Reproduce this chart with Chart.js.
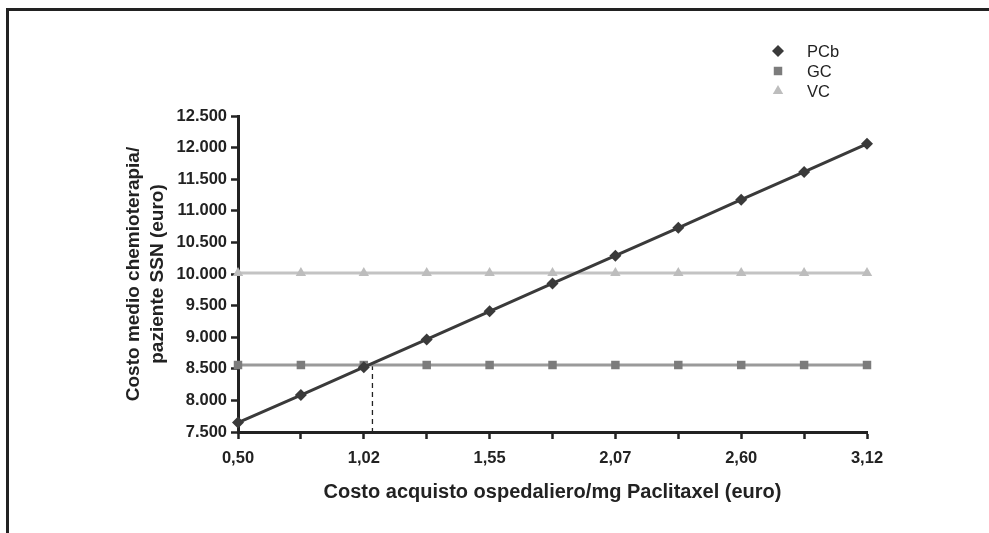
<!DOCTYPE html>
<html>
<head>
<meta charset="utf-8">
<script src="https://cdn.jsdelivr.net/npm/chart.js@4.4.1/dist/chart.umd.min.js"></script>
<style>
  html, body { margin: 0; padding: 0; background: #fff; overflow: hidden; }
  #wrap { position: relative; width: 989px; height: 533px; }
  #frame {
    position: absolute; left: 6px; top: 8px; width: 1100px; height: 700px;
    border: 3px solid #222; pointer-events: none;
  }
</style>
</head>
<body>
<div id="wrap">
  <canvas id="chart" width="989" height="533"></canvas>
  <div id="frame"></div>
</div>
<script>
// prezzo paclitaxel (euro/mg)
var prezzi = [0.50, 0.762, 1.024, 1.286, 1.548, 1.810, 2.072, 2.334, 2.596, 2.858, 3.120];
var costoPCb = [7650, 8085, 8525, 8965, 9410, 9850, 10290, 10730, 11175, 11615, 12060];
var costoGC = [8560, 8560, 8560, 8560, 8560, 8560, 8560, 8560, 8560, 8560, 8560];
var costoVC = [10015, 10015, 10015, 10015, 10015, 10015, 10015, 10015, 10015, 10015, 10015];
// punto di pareggio PCb = GC
var pareggioX = 1.06;
var pareggioY = 8560;
var yTicks = [7500, 8000, 8500, 9000, 9500, 10000, 10500, 11000, 11500, 12000, 12500];

var fontName = "'Liberation Sans', Arial, Helvetica, sans-serif";

function punti(xs, ys) {
  return xs.map(function (x, i) { return { x: x, y: ys[i] }; });
}

function migliaia(v) {
  return String(v).replace(/\B(?=(\d{3})+(?!\d))/g, ".");
}

// legenda a colonna in alto a destra
const legendaPlugin = {
  id: 'legenda',
  afterDraw: (chart, args, options) => {
    const ctx = chart.ctx;
    ctx.save();
    ctx.font = options.font;
    ctx.textBaseline = 'middle';
    ctx.textAlign = 'left';
    let y = options.y;
    chart.data.datasets.forEach((ds) => {
      if (ds.nascondi) return;
      ctx.fillStyle = ds.pointBackgroundColor;
      ctx.strokeStyle = ds.pointBackgroundColor;
      Chart.helpers.drawPoint(ctx, {
        pointStyle: ds.pointStyle,
        radius: ds.pointRadius,
        borderWidth: 0,
        rotation: 0
      }, options.x, y);
      ctx.fillStyle = '#222';
      ctx.fillText(ds.label, options.x + 29, y + 1);
      y += options.step;
    });
    ctx.restore();
  }
};

var myChart = new Chart(document.getElementById("chart"), {
  type: "line",
  data: {
    datasets: [
      {
        label: "PCb",
        data: punti(prezzi, costoPCb),
        borderColor: "#3a3a3a",
        backgroundColor: "#3a3a3a",
        pointBackgroundColor: "#3a3a3a",
        pointBorderWidth: 0,
        borderWidth: 3,
        pointStyle: "rectRot",
        pointRadius: 6,
        tension: 0,
        clip: false
      },
      {
        label: "GC",
        data: punti(prezzi, costoGC),
        borderColor: "#9a9a9a",
        backgroundColor: "#7c7c7c",
        pointBackgroundColor: "#7c7c7c",
        pointBorderWidth: 0,
        borderWidth: 3,
        pointStyle: "rect",
        pointRadius: 6,
        tension: 0,
        clip: false
      },
      {
        label: "VC",
        data: punti(prezzi, costoVC),
        borderColor: "#c3c3c3",
        backgroundColor: "#bdbdbd",
        pointBackgroundColor: "#bdbdbd",
        pointBorderWidth: 0,
        borderWidth: 3,
        pointStyle: "triangle",
        pointRadius: 6,
        tension: 0,
        clip: false
      },
      {
        label: "pareggio",
        nascondi: true,
        data: [{ x: pareggioX, y: pareggioY }, { x: pareggioX, y: yTicks[0] }],
        borderColor: "#222",
        borderWidth: 1.3,
        borderDash: [5, 4],
        pointRadius: 0,
        tension: 0
      }
    ]
  },
  options: {
    responsive: false,
    animation: false,
    layout: {
      padding: { left: 121, right: 122, top: 116, bottom: 20 }
    },
    plugins: {
      legend: { display: false },
      tooltip: { enabled: false },
      legenda: {
        x: 778,
        y: 51,
        step: 20,
        font: "16.5px " + fontName
      }
    },
    scales: {
      x: {
        type: "linear",
        min: prezzi[0],
        max: prezzi[prezzi.length - 1],
        afterBuildTicks: (axis) => {
          axis.ticks = prezzi.map((v) => ({ value: v }));
        },
        afterFit: (axis) => { axis.height = 81; },
        border: { color: "#222", width: 3 },
        grid: {
          drawOnChartArea: false,
          color: "#222",
          tickLength: 7,
          tickWidth: 2.5
        },
        ticks: {
          autoSkip: false,
          maxRotation: 0,
          color: "#222",
          padding: 10,
          font: { family: fontName, size: 16.5, weight: "bold" },
          callback: function (value, index) {
            return index % 2 === 0 ? value.toFixed(2).replace(".", ",") : "";
          }
        },
        title: {
          display: true,
          text: "Costo acquisto ospedaliero/mg Paclitaxel (euro)",
          color: "#222",
          padding: { top: 0, bottom: 9 },
          font: { family: fontName, size: 20, weight: "bold" }
        }
      },
      y: {
        min: yTicks[0],
        max: yTicks[yTicks.length - 1],
        afterBuildTicks: (axis) => {
          axis.ticks = yTicks.map((v) => ({ value: v }));
        },
        afterFit: (axis) => { axis.width = 117; },
        border: { color: "#222", width: 3 },
        grid: {
          drawOnChartArea: false,
          color: "#222",
          tickLength: 7,
          tickWidth: 2.5
        },
        ticks: {
          color: "#222",
          padding: 4,
          font: { family: fontName, size: 16.5, weight: "bold" },
          callback: function (value) {
            return migliaia(value);
          }
        },
        title: {
          display: true,
          text: ["Costo medio chemioterapia/", "paziente SSN (euro)"],
          color: "#222",
          padding: { top: 0, bottom: 10 },
          font: { family: fontName, size: 19, weight: "bold", lineHeight: 1.3 }
        }
      }
    }
  },
  plugins: [legendaPlugin]
});
</script>
</body>
</html>
